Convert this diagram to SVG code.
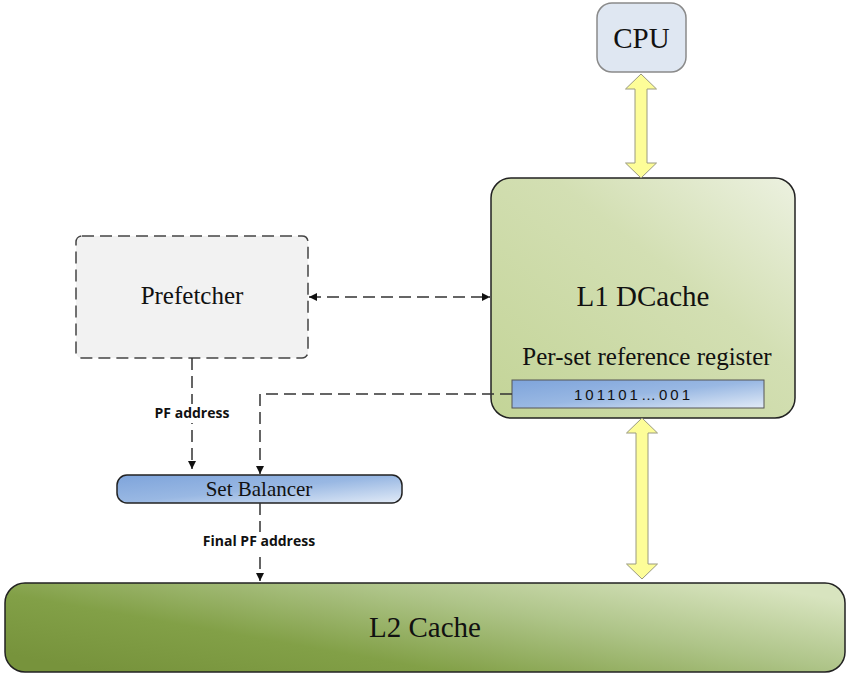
<svg xmlns="http://www.w3.org/2000/svg" width="850" height="675" viewBox="0 0 850 675">
<style>
.serif{font-family:"Liberation Serif","Times New Roman",serif;fill:#111;text-anchor:middle}
.lbl{font-family:"Open Sans","Liberation Sans",Arial,sans-serif;font-weight:bold;font-size:14px;fill:#111;text-anchor:middle}
.dash{fill:none;stroke:#333;stroke-width:1.5;stroke-dasharray:12 6}
.bus{fill:#fdfd98;stroke:#9a9a80;stroke-width:1}
</style>
<defs>
<linearGradient id="gL1" x1="0" y1="1" x2="1" y2="0">
<stop offset="0" stop-color="#c3d497"/>
<stop offset="0.6" stop-color="#d3dfb3"/>
<stop offset="1" stop-color="#ecf1e0"/>
</linearGradient>
<linearGradient id="gL2" x1="0" y1="0.8" x2="1" y2="0.2">
<stop offset="0" stop-color="#77933c"/>
<stop offset="0.3" stop-color="#82a047"/>
<stop offset="0.65" stop-color="#aec488"/>
<stop offset="1" stop-color="#d8e4bf"/>
</linearGradient>
<linearGradient id="gBlue" x1="0" y1="0" x2="1" y2="1">
<stop offset="0" stop-color="#7ea4db"/>
<stop offset="0.5" stop-color="#99b8e3"/>
<stop offset="1" stop-color="#e2ebf7"/>
</linearGradient>
<marker id="ah" viewBox="0 0 10 10" refX="10" refY="5" markerWidth="9" markerHeight="8" markerUnits="userSpaceOnUse" orient="auto-start-reverse">
<path d="M0,0 L10,5 L0,10 Z" fill="#111"/>
</marker>
</defs>

<g id="cpu">
<rect x="597" y="3" width="89" height="69" rx="15" fill="#dfe7f2" stroke="#8a8a8a" stroke-width="1.5"/>
<text class="serif" x="641.5" y="48" font-size="29">CPU</text>
</g>

<g id="l1dcache">
<rect x="491" y="178" width="304" height="240" rx="20" fill="url(#gL1)" stroke="#222" stroke-width="1.5"/>
<text class="serif" x="643" y="306" font-size="29">L1 DCache</text>
<text class="serif" x="647" y="365" font-size="25">Per-set reference register</text>
</g>

<g id="register">
<rect x="512" y="380" width="252" height="28" fill="url(#gBlue)" stroke="#555" stroke-width="1"/>
<text x="633.5" y="399.5" font-family="Liberation Sans, Arial, sans-serif" font-size="15" letter-spacing="3" text-anchor="middle" fill="#111">101101…001</text>
</g>

<g id="prefetcher">
<rect x="76" y="236" width="232" height="122" rx="6" fill="#f2f2f2" stroke="#444" stroke-width="1.5" stroke-dasharray="12 6"/>
<text class="serif" x="192" y="304" font-size="25">Prefetcher</text>
</g>

<g id="setbalancer">
<rect x="117" y="475" width="285" height="28" rx="10" fill="url(#gBlue)" stroke="#222" stroke-width="1.5"/>
<text class="serif" x="259" y="496" font-size="21">Set Balancer</text>
</g>

<g id="l2cache">
<rect x="5" y="583" width="840" height="89" rx="20" fill="url(#gL2)" stroke="#222" stroke-width="1.5"/>
<text class="serif" x="425" y="637" font-size="29">L2 Cache</text>
</g>

<g id="connectors">
<path class="bus" d="M641,74 L656.5,89 L647,89 L647,163 L656.5,163 L641,178 L625.5,163 L635,163 L635,89 L625.5,89 Z"/>
<path class="bus" d="M642,418 L657.5,433 L648,433 L648,564 L657.5,564 L642,579 L626.5,564 L636,564 L636,433 L626.5,433 Z"/>
<line class="dash" x1="309" y1="297" x2="490" y2="297" marker-start="url(#ah)" marker-end="url(#ah)"/>
<line class="dash" x1="192" y1="358" x2="192" y2="469" marker-end="url(#ah)"/>
<polyline class="dash" points="512,394 260,394 260,474" marker-end="url(#ah)"/>
<line class="dash" x1="260" y1="503" x2="260" y2="581" marker-end="url(#ah)"/>
<rect x="148" y="404" width="88" height="19" fill="#fff"/>
<text class="lbl" x="192" y="418">PF address</text>
<rect x="198" y="532" width="124" height="19" fill="#fff"/>
<text class="lbl" x="259" y="546">Final PF address</text>
</g>
</svg>
